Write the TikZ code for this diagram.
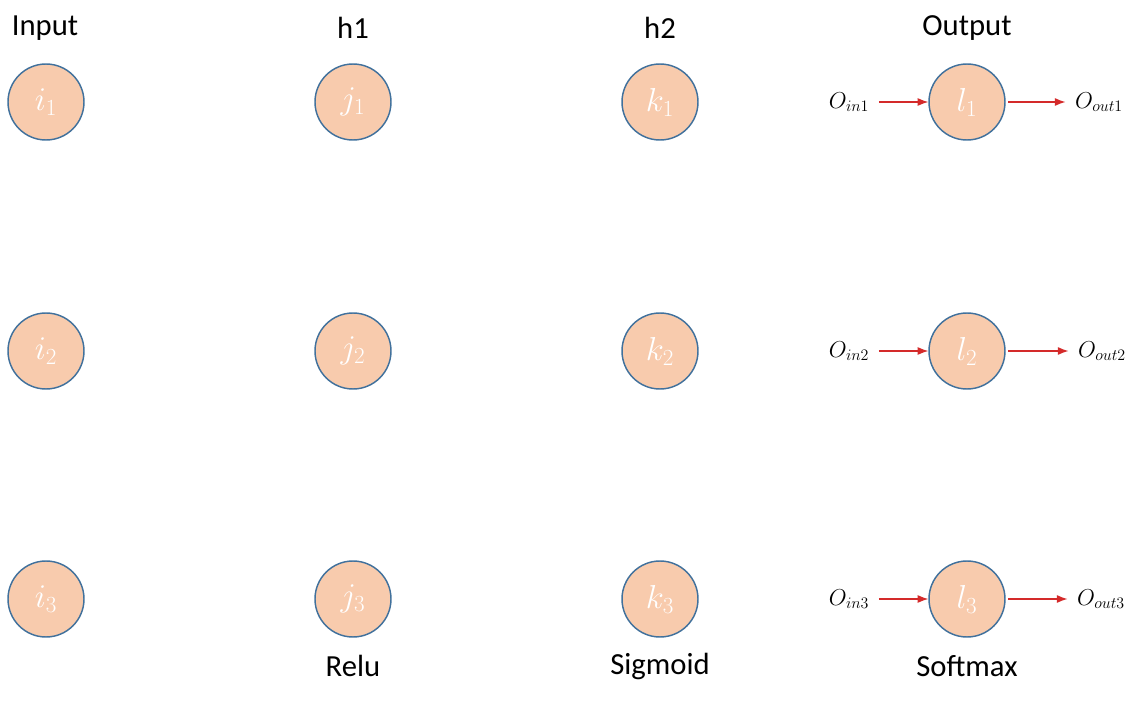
\documentclass[tikz,border=0pt]{standalone}
\usepackage{fontspec}
\setmainfont{Carlito}
\usepackage{tikz}
\usetikzlibrary{arrows.meta, positioning}
\definecolor{cellFill}{HTML}{F8CBAD}
\definecolor{cellLine}{HTML}{41719C}
\definecolor{signalRed}{HTML}{D42A2A}
\tikzset{
    neuron/.style={circle, draw=cellLine, line width=1.1pt, fill=cellFill, minimum size=57pt, inner sep=0pt, text=white, font=\fontsize{26}{30}\selectfont},
    layerTitle/.style={font=\fontsize{23}{27}\selectfont, inner sep=0pt},
    sigLabel/.style={font=\fontsize{18}{21}\selectfont, inner sep=5pt},
    sigEdge/.style={->, >={Latex[length=8pt, width=6pt]}, draw=signalRed, line width=0.8pt, shorten <=2pt},
}
\newcommand{\drawSoftmaxIO}[1]{
    \draw[sigEdge] (oin#1) -- (l#1);
    \draw[sigEdge, shorten >=2pt] (l#1) -- (oout#1);
}

\begin{document}
\begin{tikzpicture}[x=0.75pt, y=-0.75pt]
    \useasboundingbox (0,0) rectangle (1129,706);

    % layer titles
    \node[layerTitle] (tIn) at (45,28) {Input};
    \node[layerTitle] (tH1) at (353,28) {h1};
    \node[layerTitle] (tH2) at (660,28) {h2};
    \node[layerTitle] (tOut) at (967,28) {Output};

    % neurons
    \foreach \r/\y in {1/102, 2/351, 3/599} {
        \node[neuron] (i\r) at (46,\y) {$i_\r$};
        \node[neuron] (j\r) at (353,\y) {$j_\r$};
        \node[neuron] (k\r) at (660,\y) {$k_\r$};
        \node[neuron] (l\r) at (967,\y) {$l_\r$};
    }

    % activations
    \node[layerTitle] (aH1) at (353,666) {Relu};
    \node[layerTitle] (aH2) at (660,666) {Sigmoid};
    \node[layerTitle] (aOut) at (967,666) {Softmax};

    % softmax inputs / outputs
    \node[sigLabel] (oin1) at (849,102) {$O_{in1}$};
    \node[sigLabel] (oout1) at (1099,102) {$O_{out1}$};
    \node[sigLabel] (oin2) at (849,351) {$O_{in2}$};
    \node[sigLabel] (oout2) at (1102,351) {$O_{out2}$};
    \node[sigLabel] (oin3) at (849,599) {$O_{in3}$};
    \node[sigLabel] (oout3) at (1101,599) {$O_{out3}$};

    \drawSoftmaxIO{1}
    \drawSoftmaxIO{2}
    \drawSoftmaxIO{3}

\end{tikzpicture}
\end{document}
